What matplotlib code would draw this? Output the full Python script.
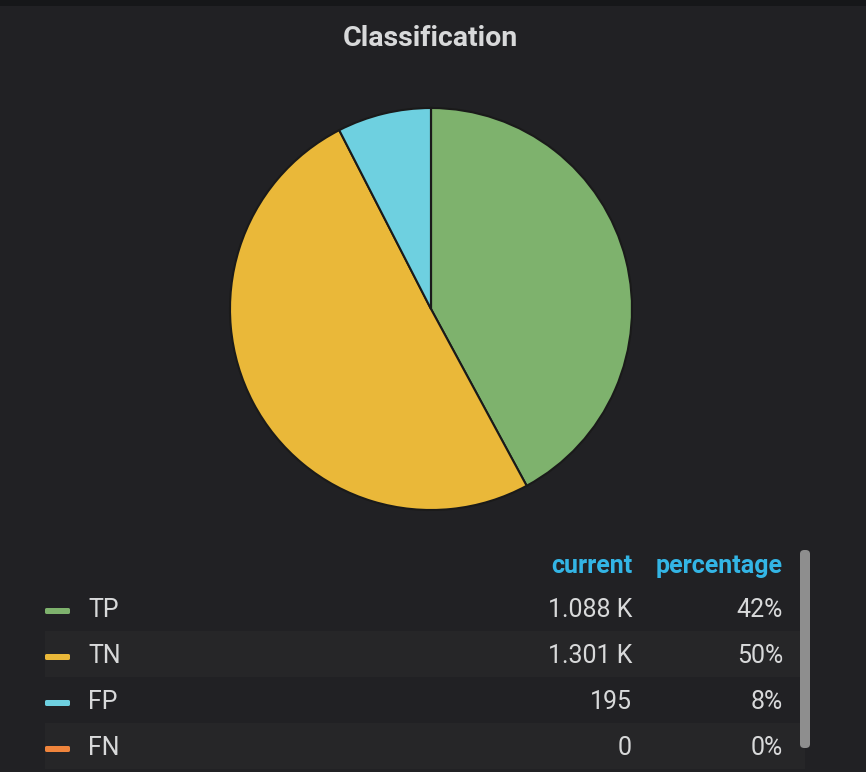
import matplotlib.pyplot as plt
from matplotlib.patches import FancyBboxPatch, Rectangle

labels = ["TP", "TN", "FP", "FN"]
values = [1088, 1301, 195, 0]
current = ["1.088 K", "1.301 K", "195", "0"]
percent = ["42%", "50%", "8%", "0%"]
colors = ["#7EB26D", "#EAB839", "#6ED0E0", "#EF843C"]

W, H = 866, 772
BG = "#212124"
TXT = "#d8d9da"
plt.rcParams['font.family'] = ['Roboto', 'DejaVu Sans']

fig = plt.figure(figsize=(W / 100, H / 100), dpi=100, facecolor=BG)


def fx(x):
    return x / W


def fy(y):
    return 1 - y / H


# top strip
fig.patches.append(Rectangle((0, fy(6)), 1, 6 / H, transform=fig.transFigure,
                             facecolor="#161719", edgecolor="none"))

fig.text(fx(430), fy(38), "Classification", color=TXT, fontsize=20.5,
         fontweight="bold", ha="center", va="center")

# pie
cx, cy, r = 431, 309, 201
ax = fig.add_axes([fx(cx - r), fy(cy + r), 2 * r / W, 2 * r / H])
ax.pie(values, colors=colors, startangle=90, counterclock=False, radius=1,
       wedgeprops=dict(edgecolor="#1a1a1a", linewidth=1.5))
ax.set_xlim(-1.0, 1.0)
ax.set_ylim(-1.0, 1.0)
ax.set_aspect("equal")
ax.axis("off")

# legend table
FS = 18
fig.text(fx(632), fy(566), "current", color="#33b5e5", fontsize=FS,
         fontweight="bold", ha="right", va="center")
fig.text(fx(783), fy(566), "percentage", color="#33b5e5", fontsize=FS,
         fontweight="bold", ha="right", va="center")

row_y = [608, 654, 700, 746]
for i, lab in enumerate(labels):
    y = row_y[i]
    if i % 2 == 1:
        fig.patches.append(Rectangle((fx(45), fy(y + 23)), fx(805) - fx(45), 46 / H,
                                     transform=fig.transFigure,
                                     facecolor="#262628", edgecolor="none"))
    fig.patches.append(FancyBboxPatch((fx(45), fy(y + 6)), 25 / W, 6 / H,
                                      boxstyle="round,pad=0,rounding_size=0.002",
                                      transform=fig.transFigure,
                                      facecolor=colors[i], edgecolor="none"))
    fig.text(fx(88), fy(y + 2), lab, color=TXT, fontsize=FS, ha="left", va="center")
    fig.text(fx(632), fy(y + 2), current[i], color=TXT, fontsize=FS, ha="right", va="center")
    fig.text(fx(783), fy(y + 2), percent[i], color=TXT, fontsize=FS, ha="right", va="center")

# scrollbar
fig.patches.append(FancyBboxPatch((fx(800), fy(748)), 10 / W, 198 / H,
                                  boxstyle="round,pad=0,rounding_size=0.005",
                                  transform=fig.transFigure,
                                  facecolor="#8e8e8e", edgecolor="none"))

fig.savefig("out.png", dpi=100, facecolor=BG)
